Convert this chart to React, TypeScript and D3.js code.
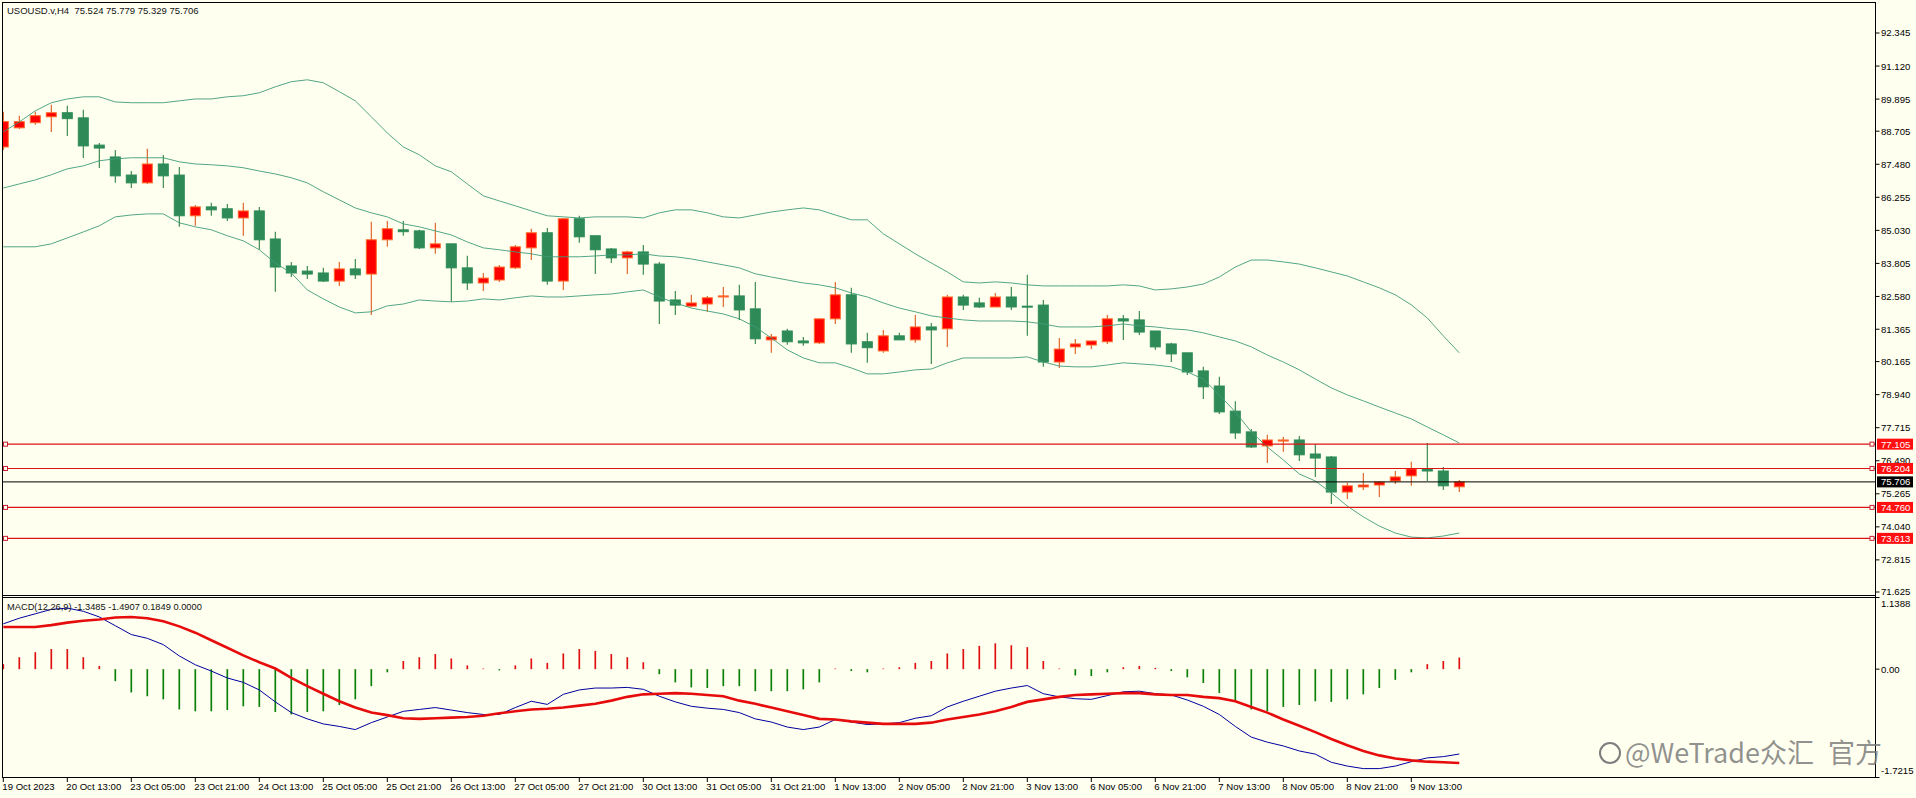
import React, { useEffect, useRef } from 'react'
import * as d3 from 'd3'

// H4 bars, oldest first
const opens = [88.12,88.83,89.02,89.24,89.39,89.20,88.19,87.75,87.08,86.79,87.49,87.08,85.57,85.90,85.83,85.49,85.75,84.71,83.71,83.52,83.45,83.15,83.60,83.41,84.68,85.05,85.01,84.38,84.53,83.64,83.08,83.19,83.64,84.38,84.94,83.15,85.46,84.83,84.34,84.01,84.23,83.78,82.45,82.22,82.30,82.56,82.60,82.12,80.97,81.30,80.93,80.86,81.75,82.64,80.90,80.56,81.12,80.97,81.45,81.38,82.56,82.34,82.19,82.56,82.22,82.26,80.15,80.71,80.78,80.90,81.75,81.71,81.30,80.82,80.49,79.82,79.26,78.33,77.56,77.04,77.22,77.26,76.74,76.63,75.33,75.52,75.59,75.74,75.93,76.19,76.11,75.524]
const highs = [89.43,89.28,89.43,89.69,89.65,89.50,88.27,88.01,87.23,88.05,87.82,87.38,85.97,86.05,86.01,86.05,85.90,84.98,83.86,83.71,83.64,83.86,83.97,85.35,85.38,85.38,85.05,85.31,84.53,84.09,83.45,83.75,84.49,85.09,85.12,85.49,85.57,84.83,84.38,84.27,84.49,83.86,82.78,82.64,82.60,82.93,83.01,83.12,81.19,81.38,81.08,81.75,83.12,82.90,81.23,81.34,81.23,81.89,81.60,82.64,82.64,82.53,82.71,82.93,83.38,82.45,81.04,81.00,80.93,81.89,81.89,82.04,81.30,80.86,80.49,79.97,79.60,78.70,77.67,77.45,77.37,77.41,77.11,76.67,75.67,76.04,75.74,76.11,76.45,77.15,76.26,75.779]
const lows = [88.01,88.79,88.94,88.68,88.53,87.71,87.34,86.79,86.60,86.75,86.60,85.16,85.20,85.57,85.38,84.83,84.31,82.75,83.30,83.23,83.12,82.97,83.23,81.89,84.42,84.83,84.34,84.16,82.38,82.82,82.78,83.12,83.60,83.93,83.01,82.82,84.57,83.41,83.82,83.41,83.38,81.56,81.89,82.19,82.01,82.19,81.71,80.82,80.49,80.79,80.75,80.82,81.56,80.49,80.12,80.49,80.97,80.86,80.08,80.71,82.08,82.15,82.19,82.08,81.12,79.97,79.93,80.45,80.63,80.82,80.97,81.15,80.60,80.15,79.67,78.78,78.22,77.30,76.96,76.41,76.82,76.48,75.89,74.89,75.07,75.41,75.15,75.63,75.56,75.74,75.41,75.329]
const closes = [89.06,89.06,89.28,89.39,89.17,88.16,88.08,87.05,86.79,87.49,87.05,85.57,85.90,85.79,85.49,85.75,84.68,83.67,83.45,83.41,83.15,83.60,83.38,84.68,85.09,84.98,84.38,84.53,83.64,83.08,83.26,83.67,84.42,84.94,83.15,85.46,84.79,84.31,84.01,84.23,83.78,82.41,82.26,82.34,82.53,82.60,82.08,81.01,81.08,80.90,80.86,81.75,82.64,80.82,80.68,81.12,80.97,81.45,81.34,82.56,82.26,82.19,82.56,82.19,82.19,80.15,80.63,80.82,80.93,81.75,81.67,81.26,80.71,80.45,79.78,79.23,78.30,77.52,77.00,77.26,77.26,76.71,76.59,75.33,75.56,75.59,75.70,75.89,76.19,76.11,75.56,75.706]

const bandUpper = [88.68,89.05,89.46,89.76,89.90,89.98,89.98,89.79,89.76,89.76,89.76,89.83,89.90,89.90,89.98,90.02,90.13,90.35,90.54,90.61,90.50,90.17,89.83,89.24,88.64,88.12,87.83,87.42,87.20,86.75,86.31,86.12,85.94,85.75,85.57,85.53,85.49,85.53,85.53,85.53,85.49,85.68,85.79,85.79,85.68,85.53,85.49,85.60,85.71,85.79,85.86,85.79,85.60,85.42,85.42,84.90,84.53,84.16,83.82,83.49,83.12,83.08,83.12,83.08,83.01,82.97,82.97,82.97,82.97,82.97,83.01,82.97,82.82,82.86,82.93,83.04,83.30,83.67,83.93,83.93,83.86,83.78,83.64,83.49,83.34,83.12,82.90,82.64,82.27,81.78,81.12,80.49]
const bandMiddle = [86.60,86.75,86.90,87.09,87.31,87.42,87.61,87.68,87.72,87.72,87.72,87.57,87.49,87.46,87.42,87.35,87.23,87.12,86.98,86.79,86.46,86.16,85.86,85.68,85.53,85.27,85.16,85.01,84.86,84.60,84.38,84.31,84.23,84.16,84.05,84.05,84.05,84.08,84.12,84.12,84.16,84.08,84.05,83.97,83.86,83.75,83.64,83.42,83.30,83.19,83.08,83.01,82.90,82.71,82.56,82.34,82.15,82.01,81.86,81.78,81.71,81.67,81.67,81.67,81.64,81.56,81.45,81.45,81.45,81.49,81.56,81.49,81.45,81.38,81.34,81.23,81.08,80.93,80.71,80.41,80.15,79.86,79.52,79.19,78.93,78.71,78.48,78.26,78.04,77.74,77.45,77.15]
const bandLower = [84.42,84.42,84.42,84.53,84.75,84.97,85.20,85.53,85.60,85.64,85.64,85.31,85.16,85.05,84.83,84.64,84.31,83.82,83.45,82.82,82.49,82.19,81.97,82.01,82.23,82.30,82.45,82.41,82.38,82.41,82.49,82.45,82.53,82.60,82.56,82.56,82.60,82.64,82.67,82.75,82.82,82.56,82.34,82.15,82.04,81.93,81.75,81.45,81.04,80.60,80.30,80.12,80.12,79.93,79.71,79.71,79.78,79.86,79.89,80.12,80.30,80.30,80.30,80.30,80.34,80.15,80.00,79.97,79.97,80.04,80.12,80.08,80.04,79.97,79.78,79.52,78.93,78.30,77.56,77.00,76.52,76.00,75.74,75.30,74.81,74.41,74.07,73.81,73.66,73.63,73.70,73.81]

const macdHist = [0.08,0.19,0.27,0.32,0.32,0.19,0.05,-0.19,-0.37,-0.43,-0.48,-0.64,-0.67,-0.67,-0.65,-0.59,-0.60,-0.68,-0.72,-0.68,-0.67,-0.57,-0.48,-0.27,-0.05,0.13,0.19,0.24,0.17,0.06,0.01,-0.02,0.06,0.17,0.10,0.25,0.32,0.29,0.24,0.19,0.11,-0.08,-0.21,-0.29,-0.30,-0.27,-0.27,-0.35,-0.35,-0.35,-0.32,-0.21,0.01,-0.03,-0.05,0.01,0.03,0.10,0.13,0.25,0.32,0.37,0.41,0.38,0.35,0.13,0.01,-0.10,-0.11,-0.05,0.03,0.05,0.02,-0.03,-0.13,-0.22,-0.38,-0.52,-0.64,-0.67,-0.60,-0.57,-0.51,-0.52,-0.48,-0.40,-0.30,-0.17,-0.05,0.08,0.13,0.1849]
const macdMain = [0.72,0.81,0.88,0.95,0.97,0.92,0.83,0.69,0.55,0.49,0.39,0.21,0.07,-0.03,-0.14,-0.21,-0.33,-0.52,-0.69,-0.79,-0.87,-0.91,-0.96,-0.85,-0.76,-0.67,-0.64,-0.61,-0.65,-0.69,-0.72,-0.72,-0.61,-0.51,-0.56,-0.40,-0.33,-0.30,-0.30,-0.29,-0.32,-0.43,-0.52,-0.59,-0.62,-0.64,-0.69,-0.79,-0.84,-0.92,-0.96,-0.92,-0.80,-0.84,-0.88,-0.87,-0.85,-0.78,-0.74,-0.60,-0.51,-0.43,-0.35,-0.30,-0.26,-0.39,-0.44,-0.47,-0.48,-0.42,-0.36,-0.35,-0.39,-0.41,-0.49,-0.59,-0.72,-0.91,-1.08,-1.16,-1.22,-1.30,-1.35,-1.48,-1.54,-1.58,-1.58,-1.54,-1.47,-1.41,-1.39,-1.3485]
const macdSignal = [0.67,0.67,0.67,0.70,0.74,0.77,0.79,0.82,0.83,0.81,0.76,0.68,0.58,0.46,0.34,0.22,0.11,0.01,-0.14,-0.27,-0.39,-0.51,-0.61,-0.69,-0.73,-0.78,-0.79,-0.78,-0.77,-0.76,-0.74,-0.70,-0.67,-0.64,-0.63,-0.61,-0.58,-0.55,-0.50,-0.44,-0.40,-0.39,-0.38,-0.39,-0.41,-0.43,-0.50,-0.55,-0.61,-0.67,-0.73,-0.79,-0.80,-0.83,-0.85,-0.87,-0.87,-0.87,-0.85,-0.80,-0.76,-0.72,-0.67,-0.60,-0.52,-0.48,-0.44,-0.41,-0.40,-0.39,-0.38,-0.38,-0.40,-0.41,-0.41,-0.44,-0.46,-0.51,-0.60,-0.69,-0.80,-0.90,-1.00,-1.11,-1.21,-1.30,-1.37,-1.42,-1.45,-1.47,-1.48,-1.4907]

const priceTicks = ['92.345','91.120','89.895','88.705','87.480','86.255','85.030','83.805','82.580','81.365','80.165','78.940','77.715','76.490','75.265','74.040','72.815','71.625']
const macdTicks = ['1.1388','0.00','-1.7215']
const redLevels = ['77.105','76.204','74.760','73.613']
const lastPrice = '75.706'
const timeLabels = ['19 Oct 2023','20 Oct 13:00','23 Oct 05:00','23 Oct 21:00','24 Oct 13:00','25 Oct 05:00','25 Oct 21:00','26 Oct 13:00','27 Oct 05:00','27 Oct 21:00','30 Oct 13:00','31 Oct 05:00','31 Oct 21:00','1 Nov 13:00','2 Nov 05:00','2 Nov 21:00','3 Nov 13:00','6 Nov 05:00','6 Nov 21:00','7 Nov 13:00','8 Nov 05:00','8 Nov 21:00','9 Nov 13:00']

const width = 1916
const height = 798
const left = 2
const axisX = 1875.5
const font = '"Liberation Sans", sans-serif'
const bg = '#FFFFF0'

export default function App() {
  const svgRef = useRef<SVGSVGElement>(null)

  useEffect(() => {
    if (!svgRef.current) return
    const svg = d3.select(svgRef.current)
    svg.selectAll('*').remove()

    const x = d3.scaleLinear().domain([0, opens.length - 1]).range([3.3, 1459.3])
    const y = d3.scaleLinear().domain([71.625, 92.345]).range([592, 33])
    const yM = d3.scaleLinear().domain([-1.7215, 1.1388]).range([777.5, 597.5])
    const idx = d3.range(opens.length)

    svg.append('rect').attr('width', width).attr('height', height).attr('fill', bg)

    svg.append('clipPath').attr('id', 'plot')
      .append('rect').attr('x', left).attr('y', 2).attr('width', axisX - left).attr('height', 776)
    const plot = svg.append('g').attr('clip-path', 'url(#plot)')

    // candles
    const up = (i: number) => closes[i] >= opens[i]
    plot.append('g').selectAll('line').data(idx).join('line')
      .attr('x1', (i) => x(i)).attr('x2', (i) => x(i))
      .attr('y1', (i) => y(highs[i])).attr('y2', (i) => y(lows[i]))
      .attr('stroke', (i) => (up(i) ? '#DB5A1C' : '#2C8040'))
      .attr('stroke-width', 1.1)
    plot.append('g').selectAll('rect').data(idx).join('rect')
      .attr('x', (i) => x(i) - 5)
      .attr('width', 10)
      .attr('y', (i) => y(Math.max(opens[i], closes[i])))
      .attr('height', (i) => Math.max(1, Math.abs(y(opens[i]) - y(closes[i]))))
      .attr('fill', (i) => (up(i) ? '#FF0000' : '#2E8B57'))
      .attr('stroke', (i) => (up(i) ? '#FF6A2A' : '#2E8B57'))
      .attr('stroke-width', 1)

    // bollinger bands
    const bandLine = d3.line<number>().x((_, i) => x(i)).y((d) => y(d))
    ;[bandUpper, bandMiddle, bandLower].forEach((band) => {
      plot.append('path').attr('d', bandLine(band)).attr('fill', 'none')
        .attr('stroke', '#3F9C78').attr('stroke-width', 0.9)
    })

    // horizontal levels
    redLevels.forEach((lv) => {
      const ly = y(+lv)
      plot.append('line').attr('x1', left).attr('x2', axisX).attr('y1', ly).attr('y2', ly)
        .attr('stroke', '#DC1414').attr('stroke-width', 1.1)
      ;[5.5, 1872].forEach((sx) => {
        svg.append('rect').attr('x', sx - 2).attr('y', ly - 2).attr('width', 4).attr('height', 4)
          .attr('fill', bg).attr('stroke', '#C81E32').attr('stroke-width', 1)
      })
    })
    plot.append('line').attr('x1', left).attr('x2', axisX).attr('y1', y(+lastPrice)).attr('y2', y(+lastPrice))
      .attr('stroke', '#000').attr('stroke-width', 1)

    // macd
    plot.append('g').selectAll('line').data(idx).join('line')
      .attr('x1', (i) => x(i)).attr('x2', (i) => x(i))
      .attr('y1', yM(0)).attr('y2', (i) => yM(macdHist[i]))
      .attr('stroke', (i) => (macdHist[i] >= 0 ? '#E01010' : '#0B800B'))
      .attr('stroke-width', 1.7)
    const macdLine = d3.line<number>().x((_, i) => x(i)).y((d) => yM(d))
    plot.append('path').attr('d', macdLine(macdMain)).attr('fill', 'none')
      .attr('stroke', '#0000A0').attr('stroke-width', 1)
    plot.append('path').attr('d', macdLine(macdSignal)).attr('fill', 'none')
      .attr('stroke', '#E60C0C').attr('stroke-width', 2.6)

    // frames
    const frame = (x1: number, y1: number, x2: number, y2: number) =>
      svg.append('line').attr('x1', x1).attr('y1', y1).attr('x2', x2).attr('y2', y2)
        .attr('stroke', '#000').attr('stroke-width', 1)
    frame(left, 2.5, axisX, 2.5)
    frame(left, 595.5, axisX, 595.5)
    frame(left, 597.5, axisX, 597.5)
    frame(left, 777.5, axisX, 777.5)
    frame(left + 0.5, 2, left + 0.5, 778)
    frame(axisX, 2, axisX, 778)

    const label = (tx: number, ty: number, t: string, size = 9.6, fill = '#000') =>
      svg.append('text').attr('x', tx).attr('y', ty).attr('dy', '0.36em')
        .attr('font-family', font).attr('font-size', size).attr('fill', fill)
        .style('white-space', 'pre').text(t)

    // price axis
    priceTicks.forEach((t) => {
      frame(axisX, y(+t), axisX + 4, y(+t))
      label(1881, y(+t), t)
    })
    macdTicks.forEach((t, i) => {
      const my = [604, yM(0), 771][i]
      label(1881, my, t)
    })
    frame(axisX, yM(1.1388), axisX + 4, yM(1.1388))
    frame(axisX, yM(0), axisX + 4, yM(0))
    frame(axisX, yM(-1.7215), axisX + 4, yM(-1.7215))

    // price flags
    const flag = (v: string, fill: string) => {
      svg.append('rect').attr('x', 1877).attr('y', y(+v) - 5.5).attr('width', 36).attr('height', 11).attr('fill', fill)
      label(1881, y(+v), v, 9.6, '#fff')
    }
    redLevels.forEach((v) => flag(v, '#FF0F0F'))
    flag(lastPrice, '#000')

    // time axis
    timeLabels.forEach((t, i) => {
      const tx = x(i * 4)
      frame(tx, 777.5, tx, 782)
      label(tx - 1, 787, t, 9.6)
    })

    label(7, 10.5, 'USOUSD.v,H4  75.524 75.779 75.329 75.706', 9.5, '#111')
    label(7, 606.5, 'MACD(12,26,9) -1.3485 -1.4907 0.1849 0.0000', 9.3, '#111')

    // watermark
    const mark = svg.append('text').attr('x', 1625).attr('y', 763)
      .attr('font-family', '"Noto Sans CJK SC", sans-serif').attr('font-size', 27)
      .attr('fill', '#7d7d7d').attr('fill-opacity', 0.85)
      .attr('word-spacing', 8)
    mark.text('@WeTrade众汇 官方')
    svg.append('circle').attr('cx', 1610).attr('cy', 753).attr('r', 10)
      .attr('fill', 'none').attr('stroke', '#7d7d7d').attr('stroke-width', 2)
  }, [])

  return (
    <svg
      ref={svgRef}
      width={width}
      height={height}
      style={{ position: 'absolute', left: 0, top: 0, display: 'block' }}
    />
  )
}
